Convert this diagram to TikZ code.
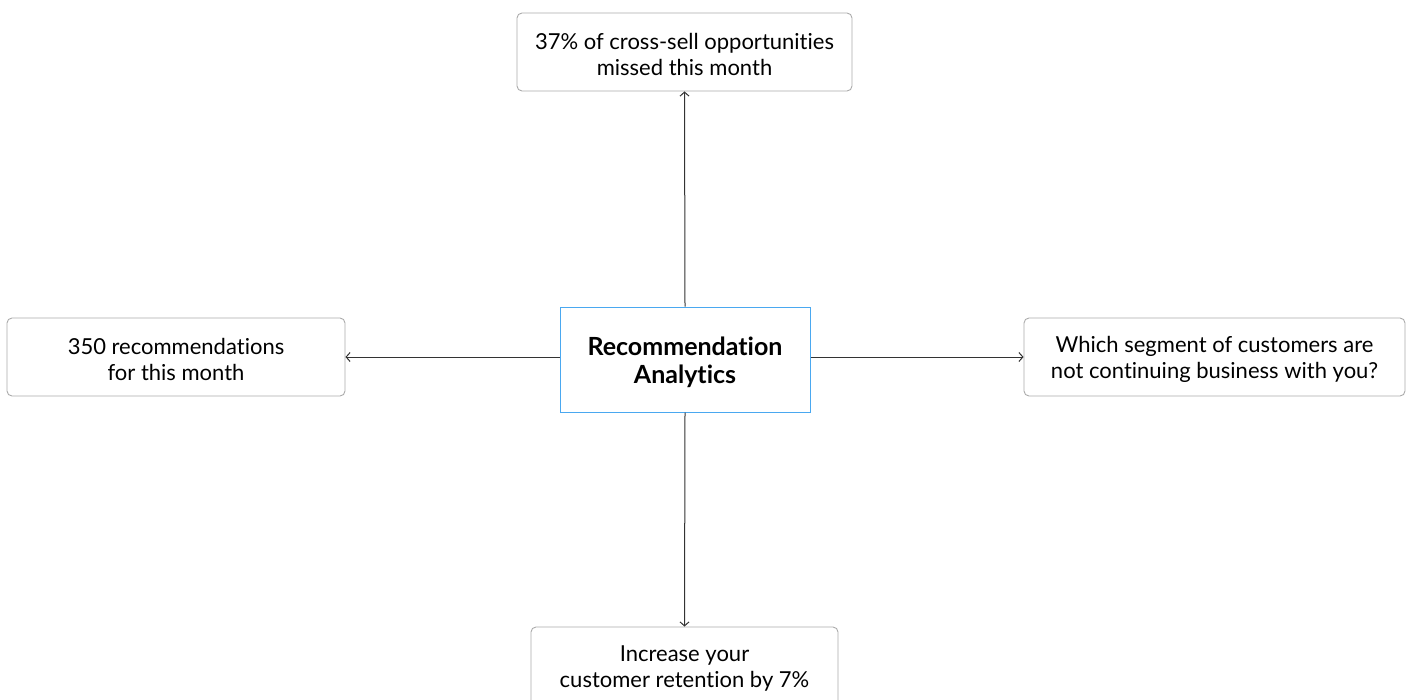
\documentclass[tikz,border=0pt]{standalone}
\usepackage{fontspec}
\setmainfont{Lato}[Ligatures={NoCommon}]
\usetikzlibrary{arrows.meta}
\definecolor{boxgray}{HTML}{ABABAB}
\definecolor{hubblue}{HTML}{4AA8F0}
\definecolor{linkgray}{HTML}{333333}
\begin{document}
\begin{tikzpicture}[x=1pt,y=-1pt,
  leaf/.style={draw=boxgray, line width=0.9pt, rounded corners=5pt, fill=white,
    inner sep=0pt, minimum height=78pt,
    label={[leaftext]center:{#1}}},
  leaftext/.style={align=center, inner sep=0pt, yshift=-2.5pt,
    font=\fontsize{22}{26.5}\selectfont, text=black},
  hub/.style={draw=hubblue, line width=1pt, fill=white, inner sep=0pt,
    minimum width=250pt, minimum height=105pt,
    label={[hubtext]center:{#1}}},
  hubtext/.style={align=center, inner sep=0pt, yshift=-3pt,
    font=\fontsize{25}{28.5}\selectfont\bfseries, text=black},
  link/.style={draw=linkgray, line width=1pt, -{Straight Barb[length=4pt,width=9pt]}}]
\useasboundingbox (0,0) rectangle (1408,699);
\begin{scope}
\clip (0,0) rectangle (1408,699);
\node[hub={Recommendation\\Analytics}] (hub) at (685,359.5) {};
\node[leaf={37\% of cross-sell opportunities\\missed this month},
  minimum width=335pt] (top) at (684.5,52) {};
\node[leaf={350 recommendations\\for this month},
  minimum width=338pt] (left) at (176,357) {};
\node[leaf={Which segment of customers are\\not continuing business with you?},
  minimum width=381pt] (right) at (1214.5,357) {};
\node[leaf={Increase your\\customer retention by 7\%},
  minimum width=307pt] (bottom) at (684.5,666) {};
\draw[link] (hub.north) -- (top.south);
\draw[link] (hub.south) -- (bottom.north);
\draw[link] (hub.west |- left.east) -- (left.east);
\draw[link] (hub.east |- right.west) -- (right.west);
\end{scope}
\end{tikzpicture}
\end{document}
